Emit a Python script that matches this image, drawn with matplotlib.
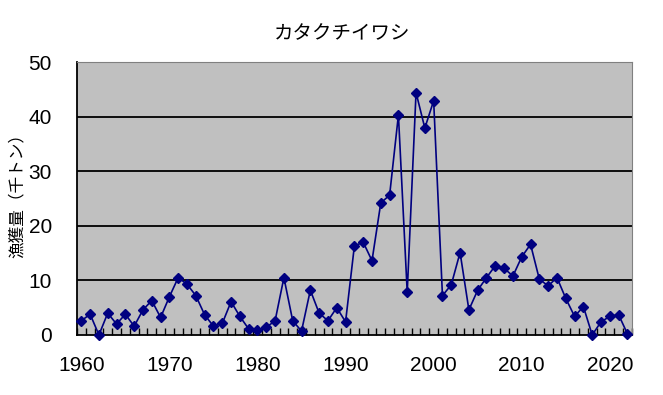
import numpy as np
import matplotlib.pyplot as plt

plt.rcParams['font.family'] = ['Liberation Sans', 'Noto Sans CJK JP', 'DejaVu Sans']

years = list(range(1960, 2023))
catch = [2.6, 3.8, 0.0, 4.0, 2.0, 3.8, 1.6, 4.6, 6.3, 3.2,
         7.0, 10.5, 9.3, 7.2, 3.7, 1.6, 2.1, 6.1, 3.4, 1.1,
         0.9, 1.4, 2.6, 10.5, 2.6, 0.7, 8.2, 4.0, 2.6, 5.0,
         2.4, 16.3, 17.0, 13.6, 24.2, 25.6, 40.3, 7.8, 44.4, 37.9,
         42.9, 7.2, 9.2, 15.1, 4.6, 8.2, 10.5, 12.7, 12.2, 10.8,
         14.3, 16.6, 10.2, 9.0, 10.5, 6.7, 3.4, 5.2, 0.0, 2.4,
         3.4, 3.7, 0.2]
xticks = [1960, 1970, 1980, 1990, 2000, 2010, 2020]
yticks = [0, 10, 20, 30, 40, 50]

fig = plt.figure(figsize=(6.63, 3.95), dpi=100)
ax = fig.add_axes([0.116, 0.152, 0.837, 0.691])
ax.set_facecolor('#C0C0C0')

for v in yticks[1:-1]:
    ax.axhline(v, color='black', linewidth=1.3, zorder=1)

ax.plot(years, catch, color='#000080', linewidth=1.2, marker='D',
        markersize=5.5, clip_on=False, zorder=3)

ax.set_xlim(1959.5, 2022.5)
ax.set_ylim(0, 50)
ax.set_xticks(xticks)
ax.set_xticks(np.arange(1959.5, 2023, 1), minor=True)
ax.set_yticks(yticks)
ax.tick_params(axis='x', which='major', length=0, pad=15, labelsize=15)
ax.tick_params(axis='x', which='minor', direction='in', length=5, width=1)
ax.tick_params(axis='y', length=0, pad=18, labelsize=15)

for s in ['top', 'right']:
    ax.spines[s].set_color('#808080')
for s in ['left', 'bottom']:
    ax.spines[s].set_color('black')
    ax.spines[s].set_linewidth(1.3)

fig.text(0.516, 0.916, 'カタクチイワシ', fontsize=14, ha='center', va='center',
         family=['Noto Sans CJK JP', 'DejaVu Sans'])
ax.set_ylabel('漁獲量（千トン）', fontsize=12,
              family=['Noto Sans CJK JP', 'DejaVu Sans'])
ax.yaxis.set_label_coords(-0.092, 0.527)

fig.savefig('out.png', dpi=100)
